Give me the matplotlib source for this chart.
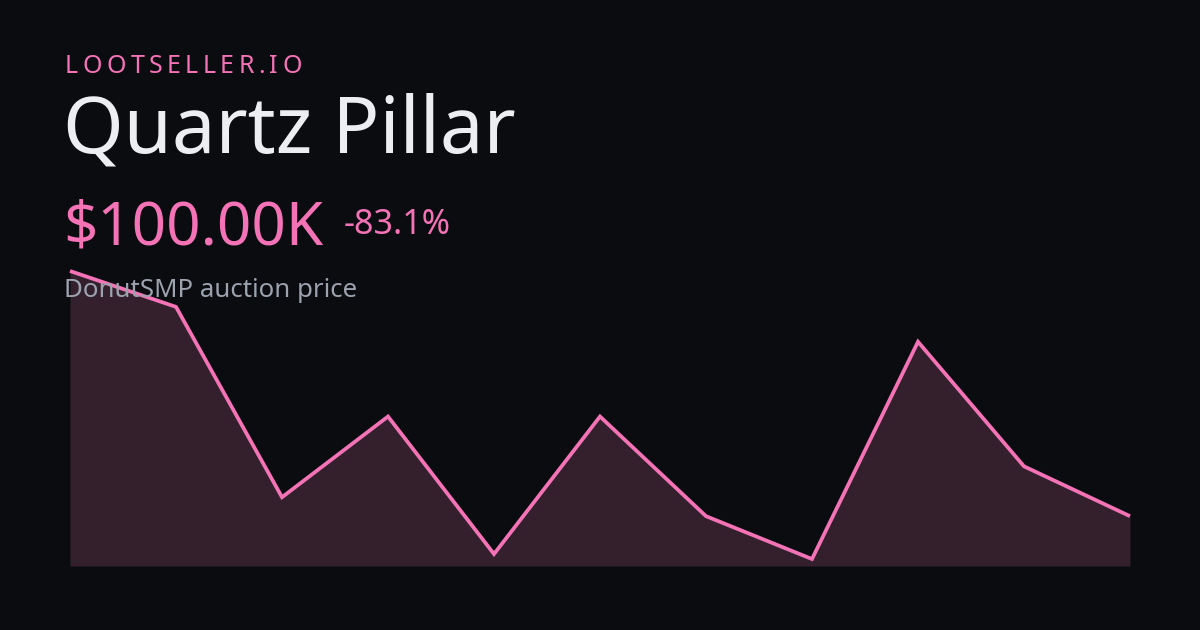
import matplotlib
matplotlib.use("Agg")
import matplotlib.pyplot as plt

# Data (prices in thousands)
prices = [592, 520, 138, 300, 24, 300, 100, 14, 450, 200, 100]
brand = "LOOTSELLER.IO"
title = "Quartz Pillar"
price_label = "$100.00K"
change_label = "-83.1%"
subtitle = "DonutSMP auction price"

BG = "#0b0c0f"
PINK = "#f472b6"
FILL = "#33202c"
WHITE = "#eceef2"
GREY = "#9ca3af"
FONT = ["Noto Sans", "DejaVu Sans"]

W, H = 1200, 630
fig = plt.figure(figsize=(12, 6.3), dpi=100, facecolor=BG)

def fy(py):
    return 1 - py / H

# Chart area
ax = fig.add_axes([70 / W, fy(566), (1130 - 70) / W, (566 - 271) / H])
ax.set_facecolor("none")
xs = list(range(len(prices)))
ax.fill_between(xs, prices, 0, color=FILL, linewidth=0, zorder=1)
ax.set_xlim(0, len(prices) - 1)
ax.set_ylim(0, max(prices))
ax.axis("off")

# Texts
fig.canvas.draw()
renderer = fig.canvas.get_renderer()

# letter-spaced brand
x = 65
spacing = 4.4
for ch in brand:
    t = fig.text(x / W, fy(73), ch, color=PINK, fontsize=18, family=FONT, va="baseline", ha="left")
    bb = t.get_window_extent(renderer=renderer)
    x += bb.width + spacing

fig.text(63 / W, fy(152), title, color=WHITE, fontsize=56, family=FONT, va="baseline", ha="left")
fig.text(63 / W, fy(244), price_label, color=PINK, fontsize=43.3, family=FONT, va="baseline", ha="left")
fig.text(344 / W, fy(234), change_label, color=PINK, fontsize=24.5, family=FONT, va="baseline", ha="left")
fig.text(64 / W, fy(297), subtitle, color=GREY, fontsize=18.6, family=FONT, va="baseline", ha="left")

# line on top
ax2 = fig.add_axes(ax.get_position())
ax2.set_facecolor("none")
ax2.plot(xs, prices, color=PINK, linewidth=2.7, solid_joinstyle="miter", solid_capstyle="butt", clip_on=False)
ax2.set_xlim(0, len(prices) - 1)
ax2.set_ylim(0, max(prices))
ax2.axis("off")

fig.savefig("out.png", dpi=100, facecolor=BG)
